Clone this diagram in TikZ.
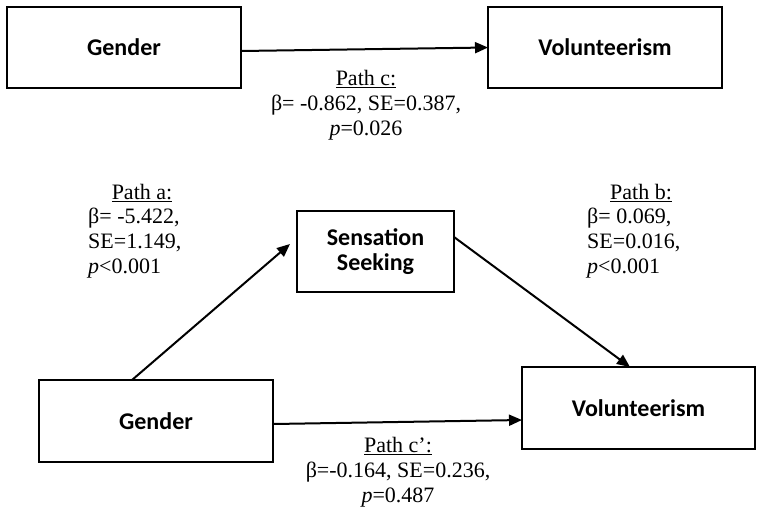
\documentclass[tikz,border=0pt]{standalone}
\usepackage{fontspec}
\setmainfont{Liberation Serif}
\newfontfamily\boxfont{Carlito}
\usetikzlibrary{arrows.meta}
\begin{document}
\begin{tikzpicture}[x=1pt,y=-1pt,
  varbox/.style={draw=black, line width=1.6pt, fill=white, inner sep=0pt, outer sep=0pt,
    font=\boxfont\bfseries\fontsize{24}{26}\selectfont, align=center},
  conn/.style={line width=2pt, -{Triangle[length=13pt,width=11pt]}},
  lbl/.style={inner sep=0pt, font=\fontsize{22}{25}\selectfont}
]
\useasboundingbox[fill=white] (0,0) rectangle (762,515);

% top model
\node[varbox, minimum width=234pt, minimum height=81pt] (g1) at (124,47.5) {Gender};
\node[varbox, minimum width=234pt, minimum height=81pt] (v1) at (605,47.5) {Volunteerism};
\draw[conn] ([yshift=-3.5pt]g1.east) -- (v1.west);
\node[lbl, align=center] (pc) at (366,105) {\underline{Path c:}\\β= -0.862, SE=0.387,\\\textit{p}=0.026};

% mediation model
\node[varbox, minimum width=157pt, minimum height=81pt] (ss) at (375.5,251.5) {Sensation\\[-1pt]Seeking};
\node[varbox, minimum width=234pt, minimum height=82pt] (g2) at (156,421) {Gender};
\node[varbox, minimum width=233pt, minimum height=82pt] (v2) at (638.5,408) {Volunteerism};

\draw[conn] ([xshift=-24pt]g2.north) -- ([xshift=-7pt,yshift=7.5pt]ss.west);
\draw[conn] ([yshift=14.5pt]ss.east) -- ([xshift=-8.5pt]v2.north);
\draw[conn] ([yshift=-3pt]g2.east) -- ([yshift=-12pt]v2.west);

\node[lbl] (pat) at (142,193) {\underline{Path a:}};
\node[lbl, align=left, anchor=west] (pab) at (88,243) {β= -5.422,\\SE=1.149,\\\textit{p}<0.001};
\node[lbl] (pbt) at (641,193) {\underline{Path b:}};
\node[lbl, align=left, anchor=west] (pbb) at (587,243) {β= 0.069,\\SE=0.016,\\\textit{p}<0.001};
\node[lbl, align=center] (pcp) at (398,472) {\underline{Path c’:}\\β=-0.164, SE=0.236,\\\textit{p}=0.487};
\end{tikzpicture}
\end{document}
